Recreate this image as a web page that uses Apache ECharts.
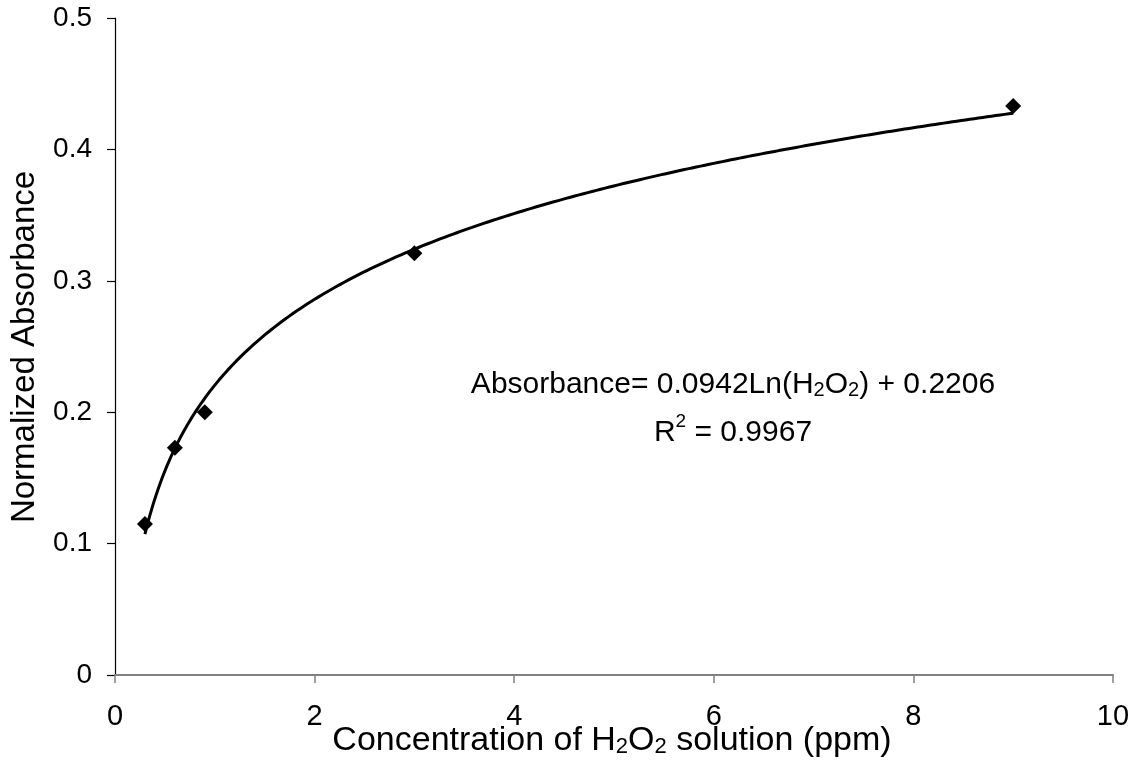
<!DOCTYPE html>
<html>
<head>
<meta charset="utf-8">
<script src="https://cdn.jsdelivr.net/npm/echarts@6/dist/echarts.min.js"></script>
<style>html,body{margin:0;padding:0;background:#fff;}#c{width:1144px;height:765px;}</style>
</head>
<body>
<div id="c"></div>
<script>
const concentration = [0.3, 0.6, 0.9, 3, 9];
const absorbance = [0.115, 0.173, 0.200, 0.321, 0.433];
const fitSlope = 0.0942;
const fitIntercept = 0.2206;
const xTicks = [0, 2, 4, 6, 8, 10];
const yTicks = [0, 0.1, 0.2, 0.3, 0.4, 0.5];

// logarithmic trendline from the chart's stated fit coefficients
const trend = [];
for (let i = 0; i <= 200; i++) {
  const x = concentration[0] + (concentration[concentration.length - 1] - concentration[0]) * i / 200;
  trend.push([x, fitSlope * Math.log(x) + fitIntercept]);
}

const font = '"Liberation Sans", Arial, sans-serif';
const chart = echarts.init(document.getElementById('c'));
chart.setOption({
  animation: false,
  backgroundColor: '#fff',
  grid: { left: 115, right: 31, top: 18, bottom: 90, containLabel: false },
  xAxis: {
    type: 'value', min: xTicks[0], max: xTicks[xTicks.length - 1], interval: 2,
    axisLine: { show: true, lineStyle: { color: '#808080', width: 2 } },
    axisTick: { show: true, inside: false, length: 8, lineStyle: { color: '#808080', width: 1.5 } },
    axisLabel: { fontFamily: font, fontSize: 29, color: '#000', margin: 27 },
    splitLine: { show: false }
  },
  yAxis: {
    type: 'value', min: yTicks[0], max: yTicks[yTicks.length - 1], interval: 0.1,
    axisLine: { show: true, onZero: false, lineStyle: { color: '#000', width: 1.2 } },
    axisTick: { show: true, inside: false, length: 8, lineStyle: { color: '#000', width: 1.2 } },
    axisLabel: { fontFamily: font, fontSize: 28, color: '#000', margin: 23, formatter: v => String(+v.toFixed(1)) },
    splitLine: { show: false }
  },
  series: [
    {
      type: 'line', data: trend, showSymbol: false, symbol: 'none',
      lineStyle: { color: '#000', width: 3 }, z: 2
    },
    {
      type: 'scatter', data: concentration.map((x, i) => [x, absorbance[i]]),
      symbol: 'diamond', symbolSize: 16, itemStyle: { color: '#000', opacity: 1 }, z: 3
    }
  ],
  graphic: [
    {
      type: 'text', x: 612, y: 739,
      style: {
        text: '{m|Concentration of H}{s|2}{m|O}{s|2}{m| solution (ppm)}',
        align: 'center', verticalAlign: 'middle',
        rich: {
          m: { fontFamily: font, fontSize: 34, fill: '#000', lineHeight: 37, verticalAlign: 'bottom' },
          s: { fontFamily: font, fontSize: 22, fill: '#000', lineHeight: 22, verticalAlign: 'bottom' }
        }
      }
    },
    {
      type: 'text', x: 25, y: 347, rotation: Math.PI / 2,
      style: {
        text: 'Normalized Absorbance', fontFamily: font, fontSize: 33, fill: '#000',
        align: 'center', verticalAlign: 'middle'
      }
    },
    {
      type: 'text', x: 733, y: 384,
      style: {
        text: '{m|Absorbance= 0.0942Ln(H}{s|2}{m|O}{s|2}{m|) + 0.2206}',
        align: 'center', verticalAlign: 'middle',
        rich: {
          m: { fontFamily: font, fontSize: 30, fill: '#000', lineHeight: 32, verticalAlign: 'bottom' },
          s: { fontFamily: font, fontSize: 20, fill: '#000', lineHeight: 20, verticalAlign: 'bottom' }
        }
      }
    },
    {
      type: 'text', x: 733, y: 430,
      style: {
        text: '{m|R}{p|2}{m| = 0.9967}',
        align: 'center', verticalAlign: 'middle',
        rich: {
          m: { fontFamily: font, fontSize: 30, fill: '#000', lineHeight: 36, verticalAlign: 'bottom' },
          p: { fontFamily: font, fontSize: 19, fill: '#000', lineHeight: 19, verticalAlign: 'top' }
        }
      }
    }
  ]
});
</script>
</body>
</html>
